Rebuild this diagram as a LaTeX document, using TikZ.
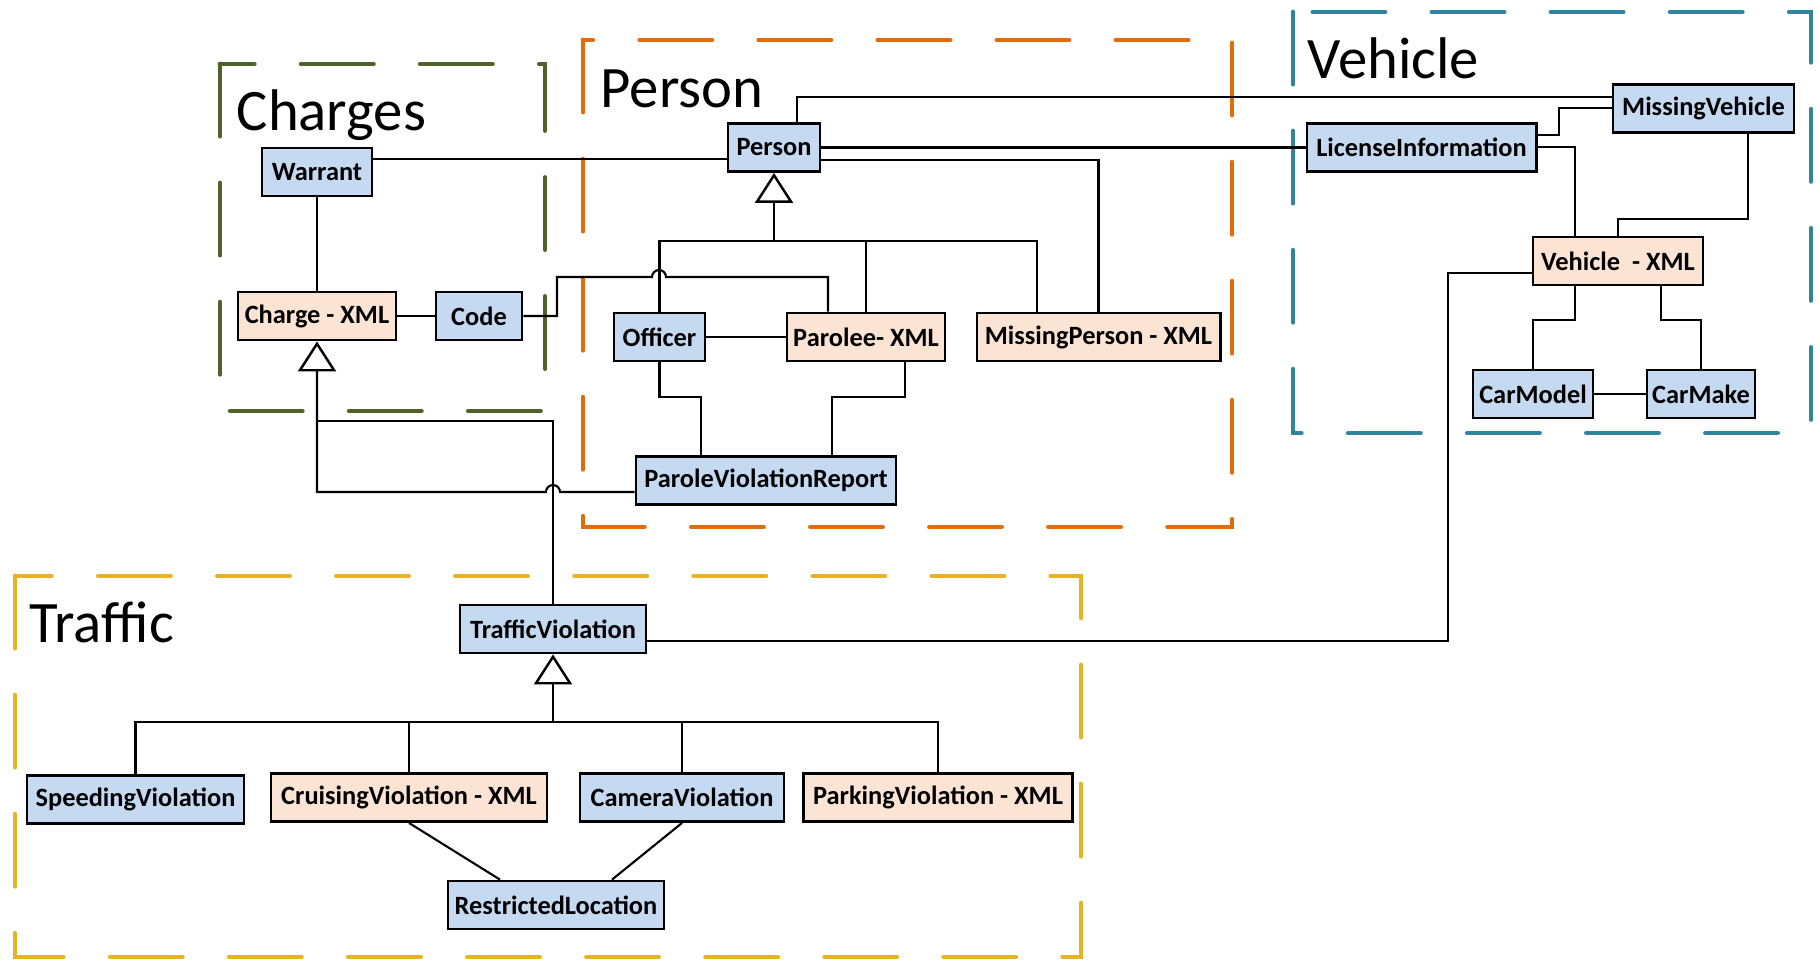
\documentclass[tikz,border=0pt]{standalone}
\usepackage{fontspec}
\setmainfont{Carlito}
\usetikzlibrary{arrows.meta, positioning, calc}
\definecolor{BoxBlue}{HTML}{C5D9F1}
\definecolor{BoxPeach}{HTML}{FCE4D4}
\definecolor{ChargesGreen}{HTML}{4F6228}
\definecolor{PersonOrange}{HTML}{E36C09}
\definecolor{VehicleTeal}{HTML}{31849B}
\definecolor{TrafficGold}{HTML}{E6B325}

\begin{document}
\begin{tikzpicture}[
        x=0.01cm, y=-0.01cm,
        block/.style={rectangle, draw=black, line width=0.8pt, fill=BoxBlue, minimum height=0.48cm, inner sep=1pt, align=center, font=\bfseries\fontsize{7.5}{9}\selectfont},
        xmlblock/.style={block, fill=BoxPeach},
        group/.style={line width=1.4pt, line cap=round, dash pattern=on 0.72cm off 0.47cm},
        title/.style={anchor=base west, inner sep=0pt, font=\fontsize{16.7}{20}\selectfont},
        conn/.style={draw=black, line width=0.6pt},
        gen/.style={-{Triangle[open, fill=white, length=0.3cm, width=0.38cm, line width=0.7pt]}}
    ]
    \useasboundingbox (0,0) rectangle (1819,959);

    % Package frames
    \draw[group, ChargesGreen] (220,64) rectangle (545,411);
    \draw[group, PersonOrange] (583,40) rectangle (1232,527);
    \draw[group, VehicleTeal] (1293,12) rectangle (1811,433);
    \draw[group, TrafficGold] (15,576) rectangle (1081,957);

    \node[title] (chargeslbl) at (236,130) {Charges};
    \node[title] (personlbl) at (600,107) {Person};
    \node[title] (vehiclelbl) at (1307,78) {Vehicle};
    \node[title] (trafficlbl) at (29,642) {Traffic};

    % Charges
    \node[block, minimum width=1.10cm] (warrant) at (317,172) {Warrant};
    \node[xmlblock, minimum width=1.58cm] (charge) at (317,316) {Charge - XML};
    \node[block, minimum width=0.86cm] (code) at (479,316) {Code};

    % Person
    \node[block, minimum width=0.92cm] (person) at (774,147.5) {Person};
    \node[block, minimum width=0.91cm] (officer) at (659.5,337) {Officer};
    \node[xmlblock, minimum width=1.58cm] (parolee) at (866,337) {Parolee- XML};
    \node[xmlblock, minimum width=2.43cm] (missing) at (1098.5,337) {MissingPerson - XML};
    \node[block, minimum width=2.60cm] (pvr) at (766,480.5) {ParoleViolationReport};

    % Vehicle
    \node[block, minimum width=2.29cm] (license) at (1421.5,147.5) {LicenseInformation};
    \node[block, minimum width=1.81cm] (missveh) at (1703.5,108.5) {MissingVehicle};
    \node[xmlblock, minimum width=1.70cm] (vehxml) at (1618,261) {Vehicle\ \ - XML};
    \node[block, minimum width=1.20cm] (carmodel) at (1533,394) {CarModel};
    \node[block, minimum width=1.08cm] (carmake) at (1701,394) {CarMake};

    % Traffic
    \node[block, minimum width=1.86cm] (traffic) at (553,629) {TrafficViolation};
    \node[block, minimum width=2.17cm] (speeding) at (135.5,799.5) {SpeedingViolation};
    \node[xmlblock, minimum width=2.76cm] (cruising) at (409,797.5) {CruisingViolation - XML};
    \node[block, minimum width=2.04cm] (camera) at (682,797.5) {CameraViolation};
    \node[xmlblock, minimum width=2.69cm] (parking) at (938,797.5) {ParkingViolation - XML};
    \node[block, minimum width=2.16cm] (restricted) at (556,905) {RestrictedLocation};

    % Charges links
    \draw[conn] (warrant.east |- 0,159) -- (person.west |- 0,159);
    \draw[conn] (warrant) -- (charge);
    \draw[conn] (charge) -- (code);
    \draw[conn] (code.east) -- (557,316) -- (557,277) -- (652,277) arc (180:0:0.07cm) -- (828,277) -- (parolee.north -| 828,0);

    % Person links
    \draw[conn, gen] (person.south |- 0,241) -- (person.south);
    \draw[conn] (officer.north) |- (1037,241) -- (missing.north -| 1037,0);
    \draw[conn] (parolee.north) -- (parolee.north |- 0,241);
    \draw[conn] (person.east |- 0,160) -| (missing.north);
    \draw[conn] (person) -- (license);
    \draw[conn] (person.north -| 797,0) |- (missveh.west |- 0,97);
    \draw[conn] (officer) -- (parolee);
    \draw[conn] (officer.south) |- (701,397) -- (pvr.north -| 701,0);
    \draw[conn] (parolee.south -| 905,0) |- (832,397) -- (pvr.north -| 832,0);
    \draw[conn, gen] (pvr.west |- 0,492) -- (560,492) arc (0:180:0.07cm) -- (317,492) -- (charge.south);
    \draw[conn] (traffic.north) |- (317,421);

    % Vehicle links
    \draw[conn] (traffic.east |- 0,641) -| (1448,273) -- (vehxml.west |- 0,273);
    \draw[conn] (license.east |- 0,135) -| (1559,108) -- (missveh.west |- 0,108);
    \draw[conn] (license.east |- 0,147) -| (vehxml.north -| 1575,0);
    \draw[conn] (missveh.south -| 1748,0) |- (1618,219) -- (vehxml.north);
    \draw[conn] (vehxml.south -| 1575,0) |- (1533,320) -- (carmodel.north);
    \draw[conn] (vehxml.south -| 1661,0) |- (1701,320) -- (carmake.north);
    \draw[conn] (carmodel) -- (carmake);

    % Traffic links
    \draw[conn, gen] (traffic.south |- 0,722) -- (traffic.south);
    \draw[conn] (speeding.north) |- (parking.north |- 0,722) -- (parking.north);
    \draw[conn] (cruising.north) -- (cruising.north |- 0,722);
    \draw[conn] (camera.north) -- (camera.north |- 0,722);
    \draw[conn] (cruising.south) -- (restricted.north -| 500,0);
    \draw[conn] (camera.south) -- (restricted.north -| 612,0);
\end{tikzpicture}
\end{document}
